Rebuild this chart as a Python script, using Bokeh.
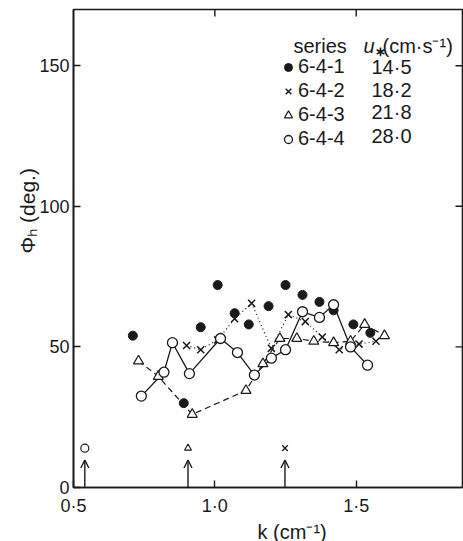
import math
from bokeh.plotting import figure
from bokeh.models import (Range1d, FixedTicker, Legend, LegendItem, Label, Title,
                          Arrow, OpenHead, ColumnDataSource, CustomJSTickFormatter)
from bokeh.embed import file_html
from bokeh.resources import INLINE

# ---- data ----
series_names = ["6-4-1", "6-4-2", "6-4-3", "6-4-4"]
ustar = ["14·5", "18·2", "21·8", "28·0"]

k1 = [0.71, 0.89, 0.95, 1.01, 1.07, 1.12, 1.19, 1.25, 1.31, 1.37, 1.42, 1.49, 1.55]
phi1 = [54, 30, 57, 72, 62, 58, 64.5, 72, 68.5, 66, 63, 58, 55]

k2 = [0.90, 0.95, 1.01, 1.07, 1.13, 1.20, 1.26, 1.32, 1.38, 1.44, 1.51, 1.57]
phi2 = [50.5, 49, 52.5, 60, 65.5, 49.5, 61.5, 59, 53.5, 49, 51, 52]

k3 = [0.73, 0.80, 0.92, 1.11, 1.17, 1.23, 1.29, 1.35, 1.42, 1.48, 1.53, 1.60]
phi3 = [45, 39.5, 26, 34.5, 44, 53, 53, 52, 51.5, 52, 58, 54]

k4 = [0.74, 0.82, 0.85, 0.91, 1.02, 1.08, 1.14, 1.20, 1.25, 1.31, 1.37, 1.42, 1.48, 1.54]
phi4 = [32.5, 41, 51.5, 40.5, 53, 48, 40, 46, 49, 62.5, 60.5, 65, 50, 43.5]

# critical wavenumbers marked by arrows (6-4-4, 6-4-3, 6-4-2)
arrow_k = [0.54, 0.905, 1.248]
arrow_base = [0, 0, 0]
arrow_tip = [9.8, 9.8, 9.8]
arrow_mark_phi = [14, 14, 14]

x_ticks = [0.5, 1.0, 1.5]
y_ticks = [0, 50, 100, 150]
x_lim = (0.5, 1.876)
y_lim = (0, 170)

FONT = "Liberation Sans"
INK = "#1a1a1a"

p = figure(frame_width=389, frame_height=478,
           x_range=Range1d(*x_lim), y_range=Range1d(*y_lim),
           output_backend="svg", toolbar_location=None,
           min_border_left=73, min_border_top=9, min_border_right=1, min_border_bottom=20)
p.outline_line_color = INK
p.outline_line_width = 1.6
p.grid.visible = False
p.background_fill_color = "white"

fmt = CustomJSTickFormatter(code="return tick.toFixed(1).replace('.', '\u00b7');")

for ax in (p.xaxis[0], p.yaxis[0]):
    ax.axis_line_color = INK
    ax.axis_line_width = 1.6
    ax.major_tick_line_color = INK
    ax.major_tick_line_width = 1.4
    ax.major_tick_in = 7
    ax.major_tick_out = 0
    ax.minor_tick_line_color = None
    ax.major_label_text_font = FONT
    ax.major_label_text_font_size = "18px"
    ax.major_label_text_color = INK

p.xaxis[0].ticker = FixedTicker(ticks=x_ticks)
p.xaxis[0].formatter = fmt
p.xaxis[0].major_label_standoff = 8
p.yaxis[0].ticker = FixedTicker(ticks=y_ticks)
p.yaxis[0].major_label_standoff = 4

# inward ticks on the top and right edges of the frame
p.ray(x=x_ticks[1:], y=[y_lim[1]] * len(x_ticks[1:]), length=7, angle=-math.pi / 2,
      length_units="screen", line_color=INK, line_width=1.4)
p.ray(x=[x_lim[1]] * len(y_ticks[1:]), y=y_ticks[1:], length=7, angle=math.pi,
      length_units="screen", line_color=INK, line_width=1.4)

# ---- series ----
p.line(k2, phi2, line_color=INK, line_width=1.2, line_dash="1 3")
p.line(k3, phi3, line_color=INK, line_width=1.2, line_dash="6 4")
p.line(k4, phi4, line_color=INK, line_width=1.3)

r1 = p.scatter(k1, phi1, marker="circle", size=9, fill_color=INK, line_color=INK)
r2 = p.scatter(k2, phi2, marker="x", size=10, line_color=INK, line_width=1.5)
r3 = p.scatter(k3, phi3, marker="triangle", size=10, fill_color="white", line_color=INK, line_width=1.2)
r4 = p.scatter(k4, phi4, marker="circle", size=10, fill_color="white", line_color=INK, line_width=1.3)

# ---- arrows with markers ----
asrc = ColumnDataSource(dict(x=arrow_k, y0=arrow_base, y1=arrow_tip))
p.add_layout(Arrow(source=asrc, x_start="x", y_start="y0", x_end="x", y_end="y1",
                   line_color=INK, line_width=1.4,
                   end=OpenHead(size=8, line_color=INK, line_width=1.4)))
p.scatter([arrow_k[0]], [arrow_mark_phi[0]], marker="circle", size=8, fill_color="white", line_color=INK, line_width=1.2)
p.scatter([arrow_k[1]], [arrow_mark_phi[1]], marker="triangle", size=7, fill_color="white", line_color=INK, line_width=1.1)
p.scatter([arrow_k[2]], [arrow_mark_phi[2]], marker="x", size=8, line_color=INK, line_width=1.3)

# ---- legend ----
legend = Legend(items=[LegendItem(label=n, renderers=[r]) for n, r in zip(series_names, [r1, r2, r3, r4])],
                location=(205, 337), orientation="vertical",
                border_line_color=None, background_fill_alpha=0,
                padding=0, margin=0, spacing=1,
                glyph_width=20, glyph_height=20, label_height=20,
                label_standoff=0, label_text_font=FONT, label_text_font_size="20px",
                label_text_color=INK)
p.add_layout(legend)

row_y = [421, 398, 375.5, 352]
for u, yy in zip(ustar, row_y):
    p.add_layout(Label(x=298, y=yy, x_units="screen", y_units="screen", text=u,
                       text_font=FONT, text_font_size="20px", text_color=INK,
                       text_baseline="middle", text_align="left"))

hdr = dict(x_units="screen", y_units="screen", text_font=FONT, text_color=INK,
           text_baseline="middle", text_align="left")
p.add_layout(Label(x=220, y=442, text="series", text_font_size="20px", **hdr))
p.add_layout(Label(x=290, y=442, text="u", text_font_size="20px", text_font_style="italic", **hdr))
p.add_layout(Label(x=301, y=436, text="∗", text_font_size="13px", text_font_style="bold", **hdr))
p.add_layout(Label(x=309, y=442, text="(cm·s⁻¹)", text_font_size="20px", **hdr))

# ---- axis titles ----
p.add_layout(Title(text="Φₕ (deg.)", align="left", offset=234, standoff=-5,
                   text_font=FONT, text_font_size="21px", text_font_style="normal",
                   text_color=INK), "left")
p.add_layout(Title(text="k (cm⁻¹)", align="left", offset=184, standoff=0,
                   text_font=FONT, text_font_size="20px", text_font_style="normal",
                   text_color=INK), "below")

open("out.html", "w").write(file_html(p, INLINE))
